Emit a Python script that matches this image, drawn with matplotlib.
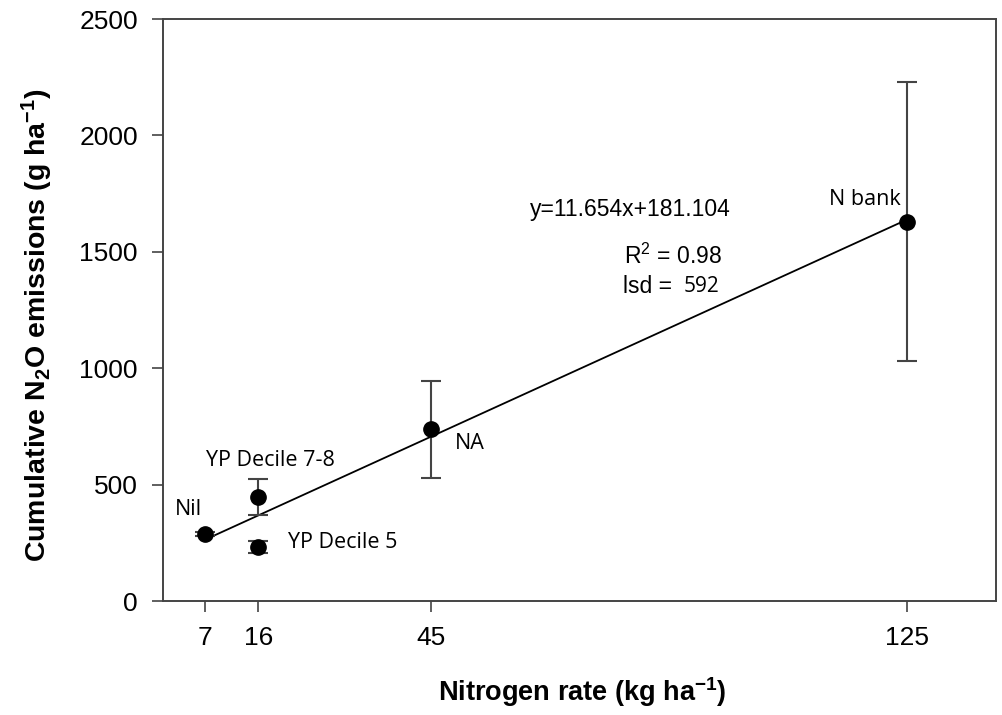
import numpy as np
import matplotlib
matplotlib.use('Agg')
import matplotlib.pyplot as plt

# Data
treatments = ['Nil', 'YP Decile 7-8', 'YP Decile 5', 'NA', 'N bank']
n_rate = [7, 16, 16, 45, 125]
n2o = [288, 447, 232, 737, 1630]
n2o_err = [10, 77, 27, 210, 600]
x_ticks = [7, 16, 45, 125]
y_ticks = [0, 500, 1000, 1500, 2000, 2500]

# Regression reported on the chart
slope = 11.654
intercept = 181.104
r2 = 0.98
lsd = 592

ARIAL = ['Liberation Sans', 'DejaVu Sans']
CALIBRI = ['Open Sans', 'DejaVu Sans']

plt.rcParams['mathtext.fontset'] = 'custom'
plt.rcParams['mathtext.rm'] = 'Liberation Sans'
plt.rcParams['mathtext.bf'] = 'Liberation Sans:bold'


def main():
    fig = plt.figure(figsize=(10.03, 7.15), dpi=100)
    ax = fig.add_axes([0.1625, 0.1594, 0.8305, 0.814])

    # Regression line across the range of applied N
    xfit = np.array([min(n_rate), max(n_rate)])
    ax.plot(xfit, slope * xfit + intercept, color='black', lw=1.3, zorder=2)

    # Treatment means with error bars
    ax.errorbar(n_rate, n2o, yerr=n2o_err, fmt='o', color='black',
                ms=11, ecolor='#444444', elinewidth=1.5, capsize=7,
                capthick=1.5, zorder=3)

    # Point labels (offsets in pixels)
    offsets = [(-30, 24), (-52, 36), (30, 5), (24, -14), (-78, 22)]
    for name, x, y, (dx, dy) in zip(treatments, n_rate, n2o, offsets):
        ax.annotate(name, (x, y), xytext=(dx, dy), textcoords='offset pixels',
                    fontsize=15.5, family=CALIBRI, va='center', ha='left')

    # Equation and statistics
    ax.text(61.6, 1680, f'y={slope}x+{intercept}', fontsize=16.5,
            family=ARIAL, ha='left', va='center')
    ax.text(77.5, 1480, f'R$^2$ = {r2}', fontsize=16.5,
            family=ARIAL, ha='left', va='center')
    ax.text(77.3, 1350, 'lsd = ', fontsize=16.5,
            family=ARIAL, ha='left', va='center')
    ax.text(87.5, 1350, f'{lsd}', fontsize=15,
            family=CALIBRI, ha='left', va='center')

    ax.set_xlim(0, 140)
    ax.set_ylim(0, 2500)
    ax.set_xticks(x_ticks)
    ax.set_yticks(y_ticks)
    ax.tick_params(axis='both', direction='out', length=8, width=1.2,
                   color='#444444', labelsize=19, pad=10)
    for lab in ax.get_xticklabels() + ax.get_yticklabels():
        lab.set_family(ARIAL)
    for sp in ax.spines.values():
        sp.set_linewidth(1.4)
        sp.set_color('#444444')

    ax.set_xlabel(r'Nitrogen rate (kg ha$\mathbf{^{-1}}$)', fontsize=19.5,
                  fontweight='bold', family=ARIAL)
    ax.set_ylabel(r'Cumulative N$\mathbf{_2}$O emissions (g ha$\mathbf{^{-1}}$)',
                  fontsize=20.5, fontweight='bold', family=ARIAL)
    ax.xaxis.set_label_coords(0.503, -0.127)
    ax.yaxis.set_label_coords(-0.13, 0.474)

    fig.savefig('out.png', dpi=100)


if __name__ == '__main__':
    main()
